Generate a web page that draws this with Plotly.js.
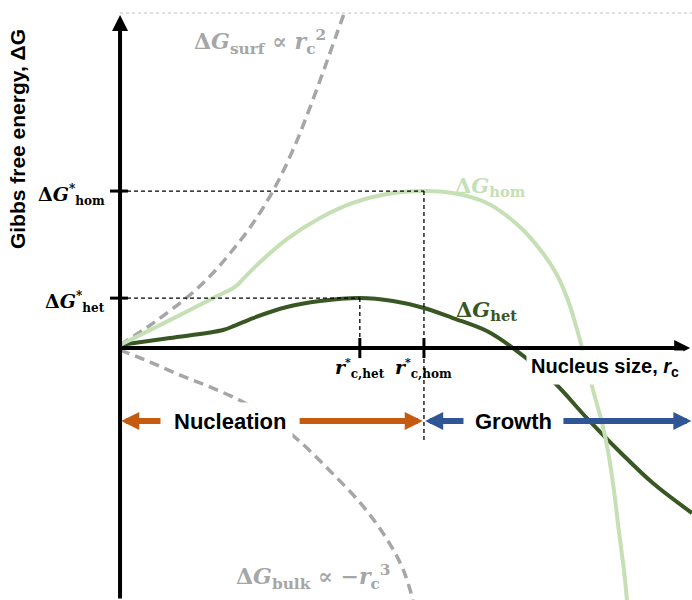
<!DOCTYPE html>
<html><head><meta charset="utf-8">
<script src="https://cdn.plot.ly/plotly-3.0.1.min.js"></script>
<style>html,body{margin:0;padding:0;background:#fff;}#chart{width:692px;height:600px;}</style>
</head><body><div id="chart"></div>
<script>
// Nucleus size r_c in units of r*_c,hom ; free energy in units of ΔG*_hom
const homR = [0, 0.164, 0.306, 0.378, 0.411, 0.461, 0.549, 0.658, 0.766, 0.878, 1.0, 1.095, 1.207, 1.316, 1.391, 1.438, 1.477, 1.507, 1.533, 1.559, 1.586, 1.605, 1.625, 1.641, 1.658, 1.668];
const homG = [0.019, 0.178, 0.318, 0.389, 0.452, 0.548, 0.694, 0.828, 0.924, 0.981, 1.0, 0.987, 0.924, 0.771, 0.605, 0.465, 0.287, 0.096, -0.096, -0.287, -0.478, -0.650, -0.904, -1.159, -1.414, -1.605];

const hetR = [0, 0.164, 0.339, 0.378, 0.438, 0.549, 0.658, 0.789, 0.898, 1.0, 1.095, 1.207, 1.293, 1.424, 1.536, 1.645, 1.753, 1.882];
const hetG = [0.019, 0.064, 0.115, 0.143, 0.191, 0.261, 0.299, 0.318, 0.299, 0.255, 0.191, 0.108, 0.0, -0.210, -0.446, -0.662, -0.860, -1.051];

const surfR = [0, 0.109, 0.230, 0.306, 0.368, 0.438, 0.510, 0.576, 0.628, 0.674, 0.714, 0.740];
const surfG = [0.019, 0.159, 0.338, 0.478, 0.618, 0.796, 1.025, 1.293, 1.548, 1.790, 2.006, 2.146];

const bulkR = [0, 0.099, 0.197, 0.296, 0.405, 0.493, 0.586, 0.691, 0.799, 0.878, 0.931, 0.964];
const bulkG = [-0.013, -0.089, -0.172, -0.248, -0.344, -0.446, -0.586, -0.783, -1.006, -1.217, -1.408, -1.605];

// critical points
const rCrit = [0.789, 1.0];          // r*_c,het , r*_c,hom
const gCrit = [0.318, 1.0];          // ΔG*_het , ΔG*_hom

const xRange = [-0.395, 1.882];
const yRange = [-1.605, 2.217];
const yTop = 2.134;
const yArrowTip = 2.121;
const yArrow = -0.465;

const C = {hom:'#c5e0b4', het:'#385723', gray:'#a6a6a6', orange:'#c55a11', blue:'#2f5597'};
const SERIF = 'DejaVu Serif, serif';
const SANS = 'Liberation Sans, Arial, sans-serif';

const traces = [
  {x: surfR, y: surfG, mode:'lines', line:{color:C.gray, width:3.5, dash:'10px,6px', shape:'spline', smoothing:1}, hoverinfo:'skip'},
  {x: bulkR, y: bulkG, mode:'lines', line:{color:C.gray, width:3.5, dash:'10px,6px', shape:'spline', smoothing:1}, hoverinfo:'skip'},
  {x: hetR, y: hetG, mode:'lines', line:{color:C.het, width:4, shape:'spline', smoothing:1}, hoverinfo:'skip'},
  {x: homR, y: homG, mode:'lines', line:{color:C.hom, width:4, shape:'spline', smoothing:1}, hoverinfo:'skip'}
];

const shapes = [
  {type:'line', x0:0, x1:xRange[1], y0:yTop, y1:yTop, line:{color:'#c0c0c0', width:1, dash:'dot'}}
];
for (let i = 0; i < 2; i++) {
  shapes.push({type:'line', x0:0, x1:rCrit[i], y0:gCrit[i], y1:gCrit[i], line:{color:'#000', width:1.3, dash:'4px,3px'}});
  shapes.push({type:'line', x0:rCrit[i], x1:rCrit[i], y0:gCrit[i], y1:(i===1 ? -0.586 : 0), line:{color:'#000', width:1.3, dash:'4px,3px'}});
  shapes.push({type:'line', x0:-0.033, x1:0.026, y0:gCrit[i], y1:gCrit[i], line:{color:'#000', width:3}});
  shapes.push({type:'line', x0:rCrit[i], x1:rCrit[i], y0:0.064, y1:-0.064, line:{color:'#000', width:3}});
}

function arrow(x, y, ax, ay, color, w, size) {
  return {x:x, y:y, ax:ax, ay:ay, xref:'x', yref:'y', axref:'x', ayref:'y', text:'', showarrow:true,
          arrowhead:2, arrowsize:size, arrowwidth:w, arrowcolor:color, standoff:0, startstandoff:0};
}
function txt(x, y, text, o) {
  return Object.assign({x:x, y:y, xref:'x', yref:'y', text:text, showarrow:false}, o);
}
const sub = (s, px) => "<sub><span style='font-size:" + px + "px'>" + s + "</span></sub>";
const star = (px) => "<sup><span style='font-size:" + px + "px'>*</span></sup>";

const ann = [
  arrow(0, yArrowTip, 0, yRange[0], '#000', 4, 0.8),
  arrow(1.876, 0, 0, 0, '#000', 4, 0.8),
  txt(-0.339, 1.331, '<b>Gibbs free energy, ΔG</b>', {textangle:-90, font:{family:SANS, size:21, color:'#000'}}),
  txt(-0.043, gCrit[1] - 0.025, '<b>Δ<i>G</i>' + star(12) + sub('hom', 12) + '</b>', {xanchor:'right', yanchor:'middle', font:{family:SERIF, size:19, color:'#000'}}),
  txt(-0.043, gCrit[0] - 0.025, '<b>Δ<i>G</i>' + star(12) + sub('het', 12) + '</b>', {xanchor:'right', yanchor:'middle', font:{family:SERIF, size:19, color:'#000'}}),
  txt(rCrit[0], -0.035, '<b><i>r</i>' + star(11) + sub('c,het', 12) + '</b>', {xanchor:'center', yanchor:'top', font:{family:SERIF, size:19, color:'#000'}}),
  txt(rCrit[1], -0.035, '<b><i>r</i>' + star(11) + sub('c,hom', 12) + '</b>', {xanchor:'center', yanchor:'top', font:{family:SERIF, size:19, color:'#000'}}),
  txt(1.595, -0.127, '<b>Nucleus size, <i>r</i><sub>c</sub></b>', {bgcolor:'#fff', borderpad:4, font:{family:SANS, size:20, color:'#000'}}),
  txt(0.362, yArrow, '<b>Nucleation</b>', {bgcolor:'#fff', borderpad:6, font:{family:SANS, size:22, color:'#000'}}),
  txt(1.293, yArrow, '<b>Growth</b>', {font:{family:SANS, size:22, color:'#000'}}),
  arrow(0.004, yArrow, 0.138, yArrow, C.orange, 6, 0.6),
  arrow(0.996, yArrow, 0.586, yArrow, C.orange, 6, 0.6),
  arrow(1.004, yArrow, 1.135, yArrow, C.blue, 6, 0.6),
  arrow(1.88, yArrow, 1.454, yArrow, C.blue, 6, 0.6),
  txt(1.22, 1.03, '<b>Δ<i>G</i><sub>hom</sub></b>', {font:{family:SERIF, size:21, color:C.hom}}),
  txt(1.207, 0.24, '<b>Δ<i>G</i><sub>het</sub></b>', {font:{family:SERIF, size:21, color:C.het}}),
  txt(0.461, 1.95, '<b>Δ<i>G</i><sub>surf</sub> ∝ <i>r</i><sub>c</sub><sup>2</sup></b>', {font:{family:SERIF, size:22, color:C.gray}}),
  txt(0.638, -1.458, '<b>Δ<i>G</i><sub>bulk</sub> ∝ −<i>r</i><sub>c</sub><sup>3</sup></b>', {font:{family:SERIF, size:22, color:C.gray}})
];

Plotly.newPlot('chart', traces, {
  width:692, height:600, margin:{l:0, r:0, t:0, b:0},
  paper_bgcolor:'#fff', plot_bgcolor:'#fff', showlegend:false,
  xaxis:{range:xRange, visible:false, fixedrange:true},
  yaxis:{range:yRange, visible:false, fixedrange:true},
  shapes:shapes, annotations:ann
}, {staticPlot:true});
</script></body></html>
